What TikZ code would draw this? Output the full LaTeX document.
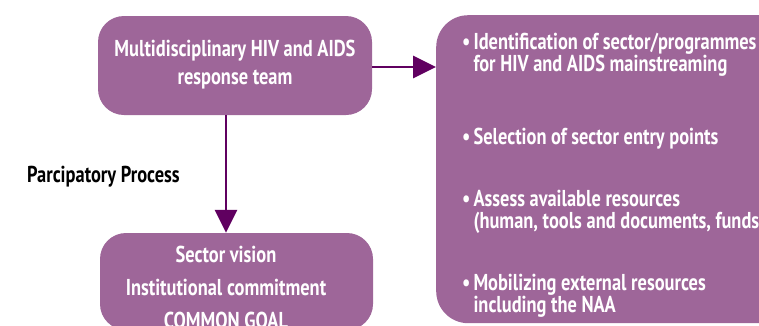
\documentclass[tikz,border=0pt]{standalone}
\usepackage{fontspec}
\setmainfont{PT Sans}[FakeStretch=0.80]
\usepackage{tikz}
\usetikzlibrary{arrows.meta,positioning}

\definecolor{boxpurple}{RGB}{158,102,153}
\definecolor{arrowpurple}{RGB}{96,0,96}

\tikzset{
  stagebox/.style={rectangle,rounded corners=26pt,fill=boxpurple,inner sep=0pt},
  stagetext/.style={text=white,font=\bfseries\fontsize{23}{28}\selectfont,align=center,inner sep=0pt},
  flowarrow/.style={-{Triangle[length=23pt,width=22pt]},line width=2.8pt,arrowpurple},
  itemtext/.style={text=white,font=\bfseries\fontsize{23}{18.5}\selectfont,
    align=left,inner sep=0pt,anchor=west}
}

\begin{document}
\begin{tikzpicture}[x=1pt,y=-1pt]
    \clip (0,0) rectangle (759,325);
    % Response team and common goal
    \node[stagebox,minimum width=274pt,minimum height=99pt] (team) at (235,65.5) {};
    \node[stagetext] (teamtext) at (235,65) {Multidisciplinary HIV and AIDS\\response team};
    \node[stagebox,minimum width=273pt,minimum height=97pt] (goal) at (236.5,281.5) {};
    \node[stagetext,font=\bfseries\fontsize{23}{33}\selectfont] (goaltext) at (226,287)
        {Sector vision\\Institutional commitment\\COMMON GOAL};

    % Mainstreaming steps
    \node[stagebox,rounded corners=32pt,minimum width=380pt,minimum height=308pt,anchor=north west] (steps) at (436,15) {};
    \node[itemtext] (identify) at (462,55.5)
        {\begin{tabular}{@{}l@{\hspace{3pt}}l@{}}\textbullet & Identification of sector/programmes\\ & for HIV and AIDS mainstreaming\end{tabular}};
    \node[itemtext] (select) at (462,139)
        {\begin{tabular}{@{}l@{\hspace{3pt}}l@{}}\textbullet & Selection of sector entry points\end{tabular}};
    \node[itemtext] (assess) at (462,212.5)
        {\begin{tabular}{@{}l@{\hspace{3pt}}l@{}}\textbullet & Assess available resources\\ & (human, tools and documents, funds)\end{tabular}};
    \node[itemtext] (mobilize) at (462,296.5)
        {\begin{tabular}{@{}l@{\hspace{3pt}}l@{}}\textbullet & Mobilizing external resources\\ & including the NAA\end{tabular}};

    % Arrows
    \draw[flowarrow] (team.east |- 0,67) -- (steps.west |- 0,67);
    \draw[flowarrow] (team.south -| goaltext.center) -- (goal.north -| goaltext.center);
    \node[font=\bfseries\fontsize{23}{24}\selectfont,anchor=west,inner sep=0pt] (process) at (27,177) {Parcipatory Process};
\end{tikzpicture}
\end{document}
